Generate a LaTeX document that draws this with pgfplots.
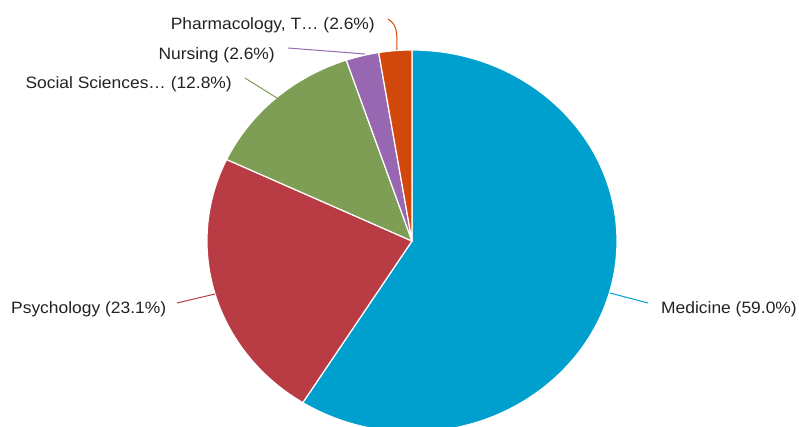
\documentclass[border=0pt]{standalone}
\usepackage{pgfplots}
\pgfplotsset{compat=1.18}
\usepackage{pgfplotstable}
\usepackage{fontspec}
\setmainfont{Liberation Sans}[FakeStretch=1.06]

\definecolor{pie0}{RGB}{0,160,206}   % Medicine
\definecolor{pie1}{RGB}{185,59,67}   % Psychology
\definecolor{pie2}{RGB}{126,158,85}  % Social Sciences
\definecolor{pie3}{RGB}{152,103,178} % Nursing
\definecolor{pie4}{RGB}{210,72,10}   % Pharmacology
\definecolor{txt}{RGB}{34,34,34}

\pgfplotstableread[col sep=semicolon]{
name;value
Medicine;59.0
Psychology;23.1
Social Sciences;12.8
Nursing;2.6
Pharmacology;2.6
}\piedata

% start/end angles of the slices, clockwise from the top
\pgfplotstablegetrowsof{\piedata}
\pgfmathtruncatemacro\lastrow{\pgfplotsretval-1}
\gdef\pietotal{0}
\foreach \i in {0,...,\lastrow}{
  \pgfplotstablegetelem{\i}{value}\of\piedata
  \pgfmathsetmacro\t{\pietotal+\pgfplotsretval}
  \xdef\pietotal{\t}
}
\gdef\cum{0}
\foreach \i in {0,...,\lastrow}{
  \pgfplotstablegetelem{\i}{value}\of\piedata
  \pgfmathsetmacro\s{90-360*(\cum/\pietotal)}
  \pgfmathsetmacro\n{\cum+\pgfplotsretval}
  \pgfmathsetmacro\e{90-360*(\n/\pietotal)}
  \expandafter\xdef\csname pieS\i\endcsname{\s}
  \expandafter\xdef\csname pieE\i\endcsname{\e}
  \xdef\cum{\n}
}

\begin{document}
\begin{tikzpicture}[lbl/.style={font=\fontsize{16.5}{20}\selectfont, text=txt, inner sep=0pt}]
\begin{axis}[
    at={(0,0)}, anchor=south west,
    x=1bp, y=1bp, y dir=reverse,
    xmin=0, xmax=799, ymin=0, ymax=427,
    hide axis, clip=false]
  \pgfplotsinvokeforeach{0,...,\lastrow}{
    \edef\temp{\noexpand\fill[pie#1, draw=white, line width=1.2bp]
      (axis cs:412,241) -- ++(\csname pieS#1\endcsname:205bp and 191bp)
      arc[start angle=\csname pieS#1\endcsname, end angle=\csname pieE#1\endcsname,
          x radius=205bp, y radius=191bp] -- cycle;}
    \temp
  }
  % leader lines
  \draw[pie0, line width=1bp] (axis cs:610,293) -- (axis cs:648,303);
  \draw[pie1, line width=1bp] (axis cs:177,303) -- (axis cs:215,294);
  \draw[pie2, line width=1bp] (axis cs:245,78) -- (axis cs:277,98);
  \draw[pie3, line width=1bp] (axis cs:288,48) -- (axis cs:365,54);
  \draw[pie4, line width=1bp] (axis cs:388,19) to[out=-30,in=92] (axis cs:397,50);
  % labels
  \node[lbl, anchor=base west] at (axis cs:661,313) {Medicine (59.0\%)};
  \node[lbl, anchor=base west] at (axis cs:11,313) {Psychology (23.1\%)};
  \node[lbl, anchor=base east] at (axis cs:232,88) {Social Sciences… (12.8\%)};
  \node[lbl, anchor=base east] at (axis cs:275,59) {Nursing (2.6\%)};
  \node[lbl, anchor=base east] at (axis cs:375,29) {Pharmacology, T… (2.6\%)};
\end{axis}
\pgfresetboundingbox
\path (0,0) rectangle (799bp,427bp);
\end{tikzpicture}
\end{document}
